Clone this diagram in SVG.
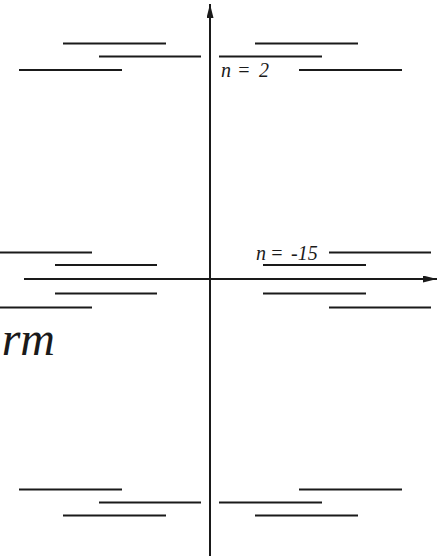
<svg xmlns="http://www.w3.org/2000/svg" width="437" height="556" viewBox="0 0 437 556">
  <style>
    .lvl { stroke: #1a1a1a; stroke-width: 2; fill: none; }
    .axis { stroke: #1a1a1a; stroke-width: 2; fill: none; }
    .lbl { font-family: 'Liberation Serif', 'DejaVu Serif', serif; font-style: italic; fill: #1a1a1a; }
  </style>
  <defs>
    <marker id="ah" viewBox="0 0 14 7" refX="14" refY="3.5" markerWidth="14" markerHeight="7" markerUnits="userSpaceOnUse" orient="auto">
      <path d="M0,0 L14,3.5 L0,7 Z" fill="#1a1a1a"/>
    </marker>
  </defs>
  <rect width="437" height="556" fill="#ffffff"/>
  <g id="connectors">
    <line class="axis" x1="210" y1="556" x2="210" y2="4" marker-end="url(#ah)"/>
    <line class="axis" x1="24" y1="279" x2="437" y2="279" marker-end="url(#ah)"/>
  </g>
  <g id="top-levels">
    <line class="lvl" x1="63" y1="43.5" x2="166" y2="43.5"/>
    <line class="lvl" x1="99" y1="56.5" x2="201" y2="56.5"/>
    <line class="lvl" x1="19" y1="70" x2="122" y2="70"/>
    <line class="lvl" x1="255" y1="43.5" x2="358" y2="43.5"/>
    <line class="lvl" x1="219" y1="56.5" x2="322" y2="56.5"/>
    <line class="lvl" x1="299" y1="70" x2="402" y2="70"/>
  </g>
  <g id="label-n2">
    <text class="lbl" font-family="Liberation Serif, DejaVu Serif, serif" font-size="20" y="77"><tspan x="221">n</tspan><tspan x="237">=</tspan><tspan x="259">2</tspan></text>
  </g>
  <g id="middle-levels">
    <line class="lvl" x1="0" y1="252.5" x2="92" y2="252.5"/>
    <line class="lvl" x1="55" y1="265" x2="157" y2="265"/>
    <line class="lvl" x1="55" y1="293.5" x2="157" y2="293.5"/>
    <line class="lvl" x1="0" y1="307.5" x2="92" y2="307.5"/>
    <line class="lvl" x1="329" y1="252.5" x2="431" y2="252.5"/>
    <line class="lvl" x1="263" y1="265" x2="366" y2="265"/>
    <line class="lvl" x1="263" y1="293.5" x2="366" y2="293.5"/>
    <line class="lvl" x1="329" y1="307.5" x2="431" y2="307.5"/>
  </g>
  <g id="label-n15">
    <text class="lbl" font-family="Liberation Serif, DejaVu Serif, serif" font-size="20" y="260"><tspan x="256">n</tspan><tspan x="270">=</tspan><tspan x="291">-15</tspan></text>
  </g>
  <g id="label-rm">
    <text class="lbl" font-family="Liberation Serif, DejaVu Serif, serif" font-size="48" x="55" y="355" text-anchor="end">rm</text>
  </g>
  <g id="bottom-levels">
    <line class="lvl" x1="19" y1="489.5" x2="122" y2="489.5"/>
    <line class="lvl" x1="99" y1="502.5" x2="201" y2="502.5"/>
    <line class="lvl" x1="63" y1="515.5" x2="166" y2="515.5"/>
    <line class="lvl" x1="299" y1="489.5" x2="402" y2="489.5"/>
    <line class="lvl" x1="219" y1="502.5" x2="322" y2="502.5"/>
    <line class="lvl" x1="255" y1="515.5" x2="358" y2="515.5"/>
  </g>
</svg>
